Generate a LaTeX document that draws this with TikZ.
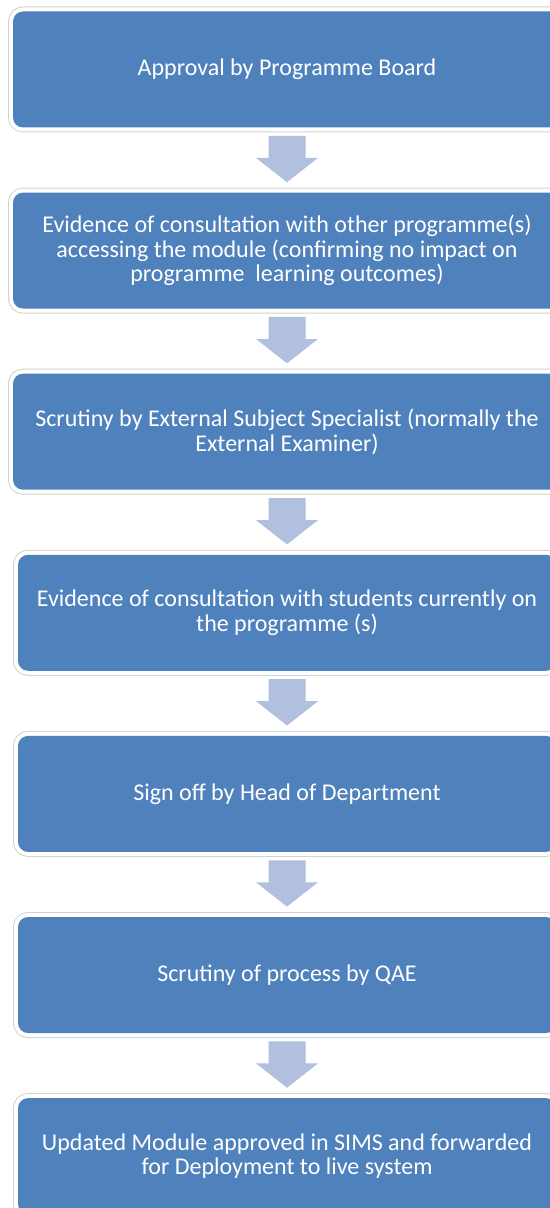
\documentclass[tikz,border=0pt]{standalone}
\usepackage{fontspec}
\setmainfont{Carlito}
\usetikzlibrary{calc}
\definecolor{stepblue}{RGB}{79,129,189}
\definecolor{arrowblue}{RGB}{176,192,222}
\definecolor{glowgrey}{RGB}{210,210,210}
\newcommand{\blockarrow}[2]{%
  \fill[flowarrow] ($(#1.south)+(-18.5,8)$) -- ($(#1.south)+(18.5,8)$)
    -- ($(#1.south)+(18.5,30)$) -- ($(#1.south)+(31,30)$)
    -- ($(#2.north)+(0,-10)$) -- ($(#1.south)+(-31,30)$)
    -- ($(#1.south)+(-18.5,30)$) -- cycle;}

\begin{document}
\begin{tikzpicture}[x=0.5pt,y=-0.5pt,
    stepbox/.style={fill=stepblue, text=white, rounded corners=5pt, inner sep=0pt,
      minimum height=58pt, align=center, font=\fontsize{12}{12.25}\selectfont,
      preaction={draw=glowgrey, line width=5pt},
      preaction={draw=white, line width=4pt}},
    widebox/.style={stepbox, minimum width=274pt},
    narrowbox/.style={stepbox, minimum width=269pt},
    flowarrow/.style={fill=arrowblue}]
  \clip (0,0) rectangle (550,1208);
  \fill[white] (0,0) rectangle (550,1208);
  \node[widebox] (approval) at (287,69.5) {Approval by Programme Board};
  \node[widebox] (othprog) at (287,250.6) {Evidence of consultation with other programme(s)\\accessing the module (confirming no impact on\\programme~ learning outcomes)};
  \node[widebox] (external) at (287,431.7) {Scrutiny by External Subject Specialist (normally the\\External Examiner)};
  \node[narrowbox] (students) at (287,612.8) {Evidence of consultation with students currently on\\the programme (s)};
  \node[narrowbox] (headdept) at (287,793.9) {Sign off by Head of Department};
  \node[narrowbox] (qae) at (287,975) {Scrutiny of process by QAE};
  \node[narrowbox] (sims) at (287,1156.1) {Updated Module approved in SIMS and forwarded\\for Deployment to live system};
  \blockarrow{approval}{othprog}
  \blockarrow{othprog}{external}
  \blockarrow{external}{students}
  \blockarrow{students}{headdept}
  \blockarrow{headdept}{qae}
  \blockarrow{qae}{sims}
\end{tikzpicture}
\end{document}
